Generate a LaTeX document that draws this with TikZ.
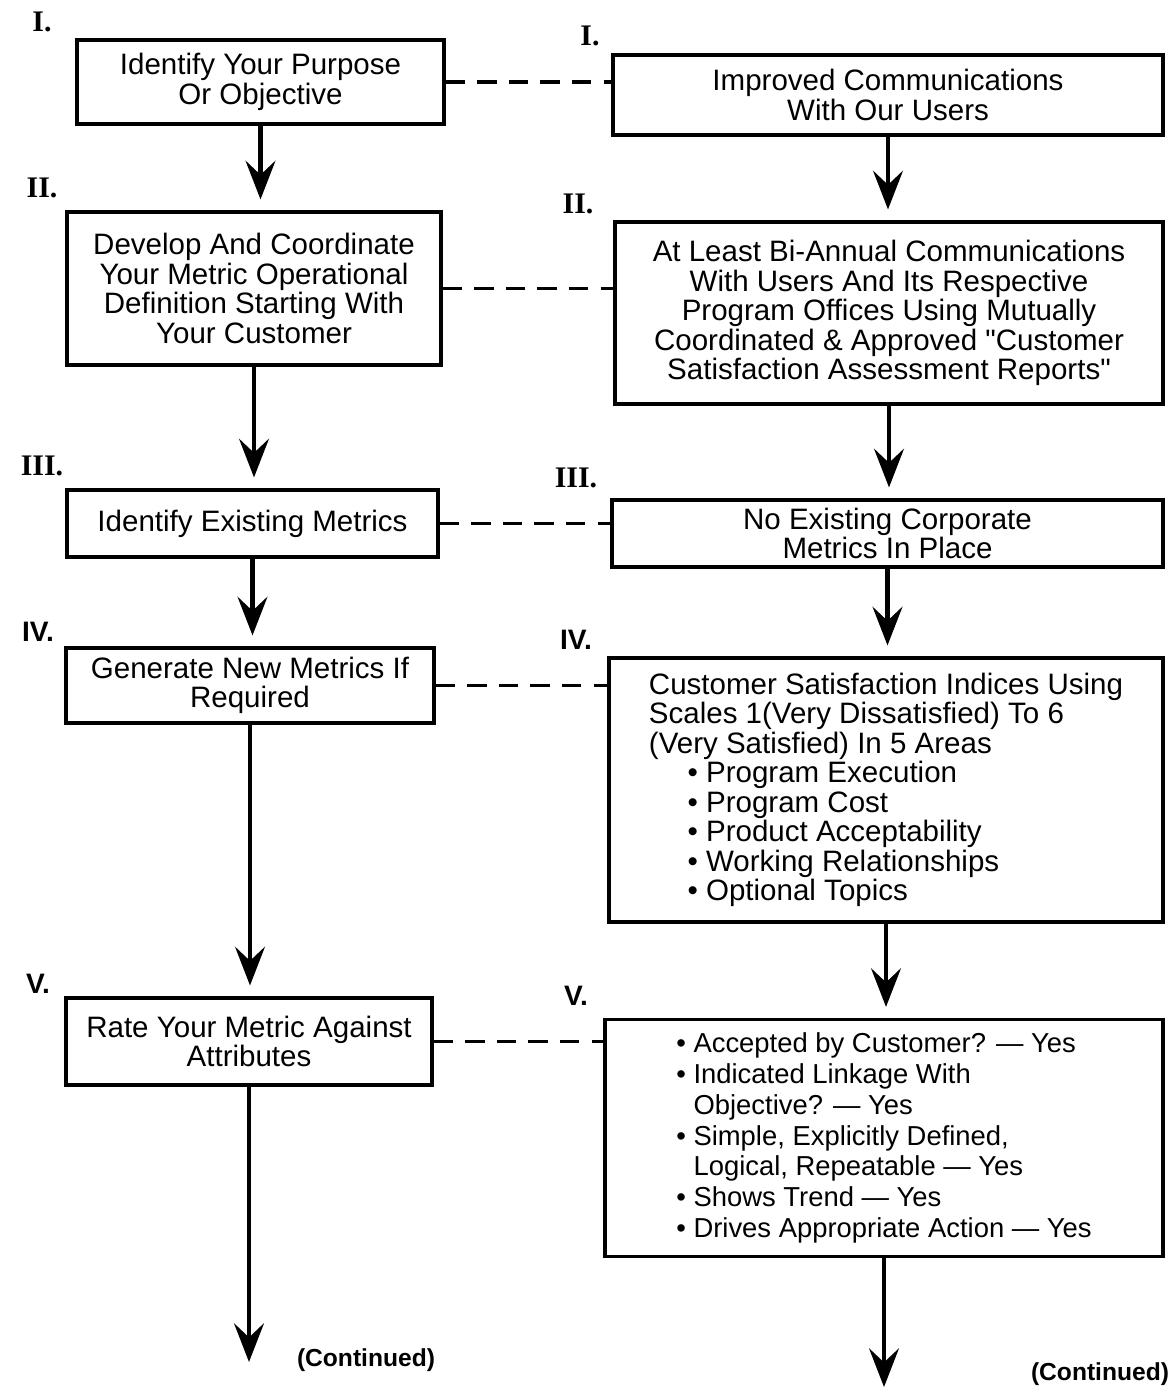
\documentclass[tikz,border=0pt]{standalone}
\usepackage{fontspec}
\setmainfont{Liberation Sans}
\newfontfamily\numfont{Liberation Serif}
\usetikzlibrary{arrows.meta}

\begin{document}
\begin{tikzpicture}[x=0.02cm,y=-0.02cm,
  stepbox/.style={draw,line width=1.8pt,inner sep=0pt,align=center,
    font=\fontsize{16.8}{16.8}\selectfont},
  boxsize/.style 2 args={minimum width=#1*0.02cm,minimum height=#2*0.02cm},
  flow/.style={line width=2.3pt,-{Stealth[length=22pt,width=17pt,inset=8pt]}},
  link/.style={line width=1.8pt,dash pattern=on 11pt off 7pt},
  numr/.style={font=\numfont\bfseries\fontsize{17}{17}\selectfont},
  nums/.style={font=\bfseries\fontsize{16}{16}\selectfont},
  cont/.style={font=\bfseries\fontsize{14}{14}\selectfont}]
\useasboundingbox (0,0) rectangle (1168,1389);

% left column: the steps
\node[stepbox,boxsize={367}{84}] (l1) at (260.5,82) {Identify Your Purpose\\Or Objective};
\node[stepbox,boxsize={374}{153}] (l2) at (254,288.5) {Develop And Coordinate\\Your Metric Operational\\Definition Starting With\\Your Customer};
\node[stepbox,boxsize={371}{67}] (l3) at (252.5,523.5) {Identify Existing Metrics};
\node[stepbox,boxsize={368}{75}] (l4) at (250,685.5) {Generate New Metrics If\\Required};
\node[stepbox,boxsize={366}{87}] (l5) at (249,1041.5) {Rate Your Metric Against\\Attributes};
\coordinate (lend) at (249,1362);

% right column: the example
\node[stepbox,boxsize={550}{80}] (r1) at (888,95) {Improved Communications\\With Our Users};
\node[stepbox,boxsize={548}{182}] (r2) at (889,313) {At Least Bi-Annual Communications\\With Users And Its Respective\\Program Offices Using Mutually\\Coordinated \& Approved \textquotedbl Customer\\Satisfaction Assessment Reports\textquotedbl};
\node[stepbox,boxsize={551}{67}] (r3) at (887.5,533.5) {No Existing Corporate\\Metrics In Place};
\node[stepbox,boxsize={554}{264},align=left] (r4) at (886,790) {Customer Satisfaction Indices Using\\Scales 1(Very Dissatisfied) To 6\\(Very Satisfied) In 5 Areas\\
  \hspace{22pt}• Program Execution\\\hspace{22pt}• Program Cost\\\hspace{22pt}• Product Acceptability\\
  \hspace{22pt}• Working Relationships\\\hspace{22pt}• Optional Topics};
\node[stepbox,boxsize={558}{237},align=left,font=\fontsize{15.6}{17.5}\selectfont] (r5) at (884,1138) {• Accepted by Customer? — Yes\\• Indicated Linkage With\\\phantom{• }Objective? — Yes\\
  • Simple, Explicitly Defined,\\\phantom{• }Logical, Repeatable — Yes\\• Shows Trend — Yes\\• Drives Appropriate Action — Yes};
\coordinate (rend) at (884,1387);

% step numbers
\node[numr] (n1l) at (42,22) {I.};
\node[numr] (n1r) at (590,36) {I.};
\node[numr] (n2l) at (42,188) {II.};
\node[numr] (n2r) at (578,204) {II.};
\node[numr] (n3l) at (42,466) {III.};
\node[numr] (n3r) at (576,478) {III.};
\node[nums] (n4l) at (38,632) {IV.};
\node[nums] (n4r) at (576,640) {IV.};
\node[nums] (n5l) at (38,984) {V.};
\node[nums] (n5r) at (576,996) {V.};

% arrows down each column
\foreach \a/\b in {l1/l2,l2/l3,l3/l4,l4/l5,r1/r2,r2/r3,r3/r4,r4/r5}
  \draw[flow,shorten >=0.22cm] (\a.south) -- (\a.south |- \b.north);
\draw[flow] (l5.south) -- (l5.south |- lend);
\draw[flow] (r5.south) -- (r5.south |- rend);

% dashed links between the columns
\foreach \i in {1,...,5}
  \draw[link] (l\i.east) -- (l\i.east -| r\i.west);

\node[cont] (c1) at (366,1360) {(Continued)};
\node[cont] (c2) at (1100,1374) {(Continued)};
\end{tikzpicture}
\end{document}
